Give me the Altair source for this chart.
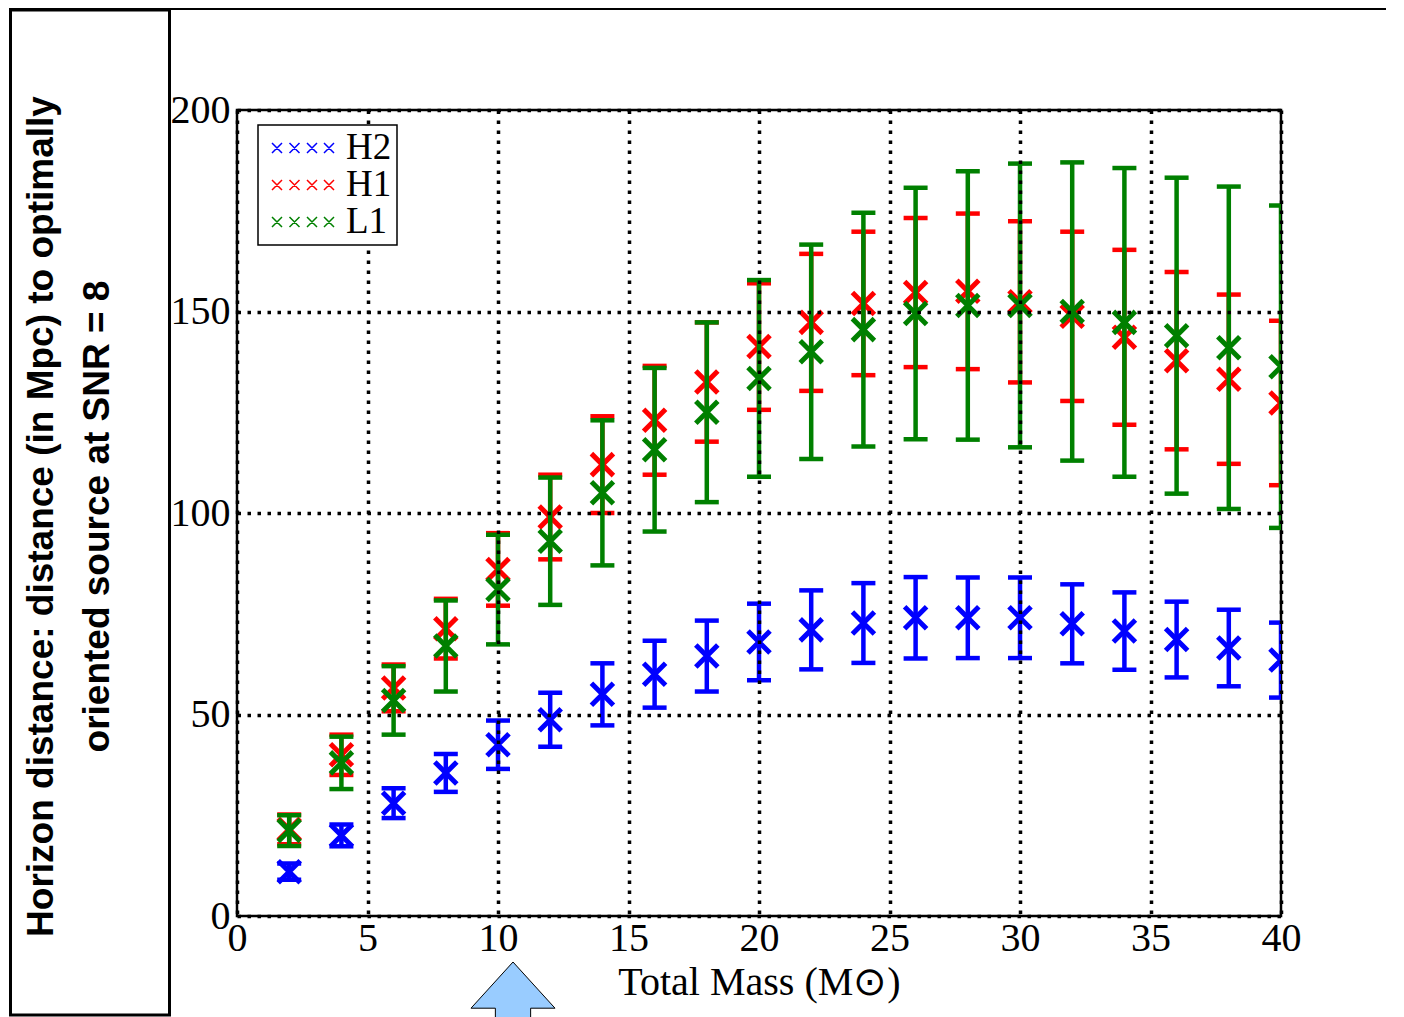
import altair as alt
import pandas as pd

# ---- data ----
mass = [2, 4, 6, 8, 10, 12, 14, 16, 18, 20, 22, 24, 26, 28, 30, 32, 34, 36, 38, 40]

h2_val = [11, 20, 28, 35.5, 42.5, 48.7, 55, 60, 64.5, 68, 71, 72.7, 74, 74, 74, 72.5, 70.7, 68.6, 66.5, 63.5]
h2_err = [2, 2.7, 3.7, 4.7, 6, 6.7, 7.7, 8.3, 8.8, 9.5, 9.8, 9.9, 10.1, 10, 10, 9.8, 9.6, 9.4, 9.5, 9.3]

h1_val = [21.5, 40, 56.6, 71.3, 86, 99, 112, 123, 132.5, 141.3, 147.3, 152, 154.7, 155, 152.4, 148.8, 143.6, 137.8, 133.2, 127.3]
h1_err = [3.7, 5, 5.8, 7.4, 9, 10.5, 12, 13.5, 14.8, 15.7, 17, 17.8, 18.5, 19.3, 20, 21, 21.7, 22, 21, 20.4]

l1_val = [21.2, 38, 53.5, 67, 81, 93, 105, 115.7, 125, 133.4, 140, 145.5, 149.5, 151.5, 151.5, 150, 147.3, 144, 141, 136.3]
l1_err = [3.8, 6.5, 8.5, 11.3, 13.6, 15.8, 18, 20.3, 22.3, 24.4, 26.6, 29, 31.2, 33.3, 35.2, 37, 38.3, 39.2, 40, 40]

detectors = ["H2", "H1", "L1"]
colors = ["#0000ff", "#ff0000", "#008000"]

x_ticks = [0, 5, 10, 15, 20, 25, 30, 35, 40]
y_ticks = [0, 50, 100, 150, 200]

x_title = "Total Mass (M⊙)"
side_line1 = "Horizon distance: distance (in Mpc) to optimally"
side_line2 = "oriented source at SNR = 8"

rows = []
for det, vals, errs in zip(detectors, [h2_val, h1_val, l1_val], [h2_err, h1_err, l1_err]):
    for m, v, e in zip(mass, vals, errs):
        rows.append({"mass": m, "det": det, "dist": v, "err": e})
df = pd.DataFrame(rows)

X_PATH = "M-1,-1L1,1M-1,1L1,-1"
# four small crosses, as in the matplotlib legend (scale: 20 px per unit)
LEG_PATH = ("M-1,0"
            "M-0.6,-0.25L-0.1,0.25M-0.6,0.25L-0.1,-0.25"
            "M0.275,-0.25L0.775,0.25M0.275,0.25L0.775,-0.25"
            "M1.15,-0.25L1.65,0.25M1.15,0.25L1.65,-0.25"
            "M2.0,-0.25L2.5,0.25M2.0,0.25L2.5,-0.25")

SERIF = "Liberation Serif"

x_scale = alt.Scale(domain=[0, 40], nice=False, zero=False)
y_scale = alt.Scale(domain=[0, 200], nice=False, zero=False)
color_scale = alt.Scale(domain=detectors, range=colors)

x_axis = alt.Axis(values=x_ticks, format="d", title=x_title, titleFont=SERIF,
                  titleFontSize=40, titleFontWeight="normal", titleColor="black",
                  titleBaseline="alphabetic", titleY=78,
                  labelFont=SERIF, labelFontSize=40, labelColor="black",
                  labelPadding=2, labelFlush=False, labelOverlap=False,
                  ticks=False, domain=False, grid=True, gridColor="black",
                  gridDash=[3.5, 6.5], gridWidth=3.5, gridOpacity=1, zindex=1)
y_axis = alt.Axis(values=y_ticks, format="d", title=None,
                  labelFont=SERIF, labelFontSize=40, labelColor="black",
                  labelPadding=7, labelOverlap=False,
                  ticks=False, domain=False, grid=True, gridColor="black",
                  gridDash=[3.5, 6.5], gridWidth=3.5, gridOpacity=1, zindex=1)

legend = alt.Legend(title=None, orient="none", legendX=21, legendY=15,
                    symbolType=LEG_PATH, symbolSize=1600, symbolStrokeWidth=1.5,
                    symbolOpacity=1, clipHeight=36,
                    labelFont=SERIF, labelFontSize=37, labelColor="black",
                    labelOffset=41, padding=5, rowPadding=0,
                    strokeColor="black", fillColor="white", zindex=2)

color_enc = alt.Color("det:N", scale=color_scale, legend=legend)

base = alt.Chart(df).transform_calculate(
    lo="datum.dist - datum.err", hi="datum.dist + datum.err")

layers = []
for det in detectors:
    b = base.transform_filter(alt.datum.det == det)
    rule = b.mark_rule(strokeWidth=4.5, clip=True).encode(
        x=alt.X("mass:Q", scale=x_scale, axis=x_axis),
        y=alt.Y("lo:Q", scale=y_scale, axis=y_axis),
        y2="hi:Q",
        color=color_enc)
    cap_lo = b.mark_tick(orient="horizontal", size=24, thickness=4.5, opacity=1, clip=True).encode(
        x=alt.X("mass:Q", scale=x_scale, axis=x_axis),
        y=alt.Y("lo:Q", scale=y_scale, axis=y_axis),
        color=color_enc)
    cap_hi = b.mark_tick(orient="horizontal", size=24, thickness=4.5, opacity=1, clip=True).encode(
        x=alt.X("mass:Q", scale=x_scale, axis=x_axis),
        y=alt.Y("hi:Q", scale=y_scale, axis=y_axis),
        color=color_enc)
    pt = b.mark_point(shape=X_PATH, size=484, strokeWidth=5, filled=False, opacity=1, clip=True).encode(
        x=alt.X("mass:Q", scale=x_scale, axis=x_axis),
        y=alt.Y("dist:Q", scale=y_scale, axis=y_axis),
        color=color_enc)
    layers += [rule, cap_lo, cap_hi, pt]

deco = alt.Chart(pd.DataFrame({"k": [0]}))

top_line = deco.mark_rule(color="black", strokeWidth=2).encode(
    x=alt.value(-228), x2=alt.value(1149), y=alt.value(-101))
side_box = deco.mark_rect(fill="white", fillOpacity=0, stroke="black", strokeWidth=3).encode(
    x=alt.value(-226.5), x2=alt.value(-67.5), y=alt.value(-100), y2=alt.value(905))
text1 = deco.mark_text(angle=270, align="center", baseline="alphabetic",
                       font="Liberation Sans", fontWeight="bold", fontSize=37, color="black").encode(
    x=alt.value(-184), y=alt.value(406.5), text=alt.value(side_line1))
text2 = deco.mark_text(angle=270, align="center", baseline="alphabetic",
                       font="Liberation Sans", fontWeight="bold", fontSize=37, color="black").encode(
    x=alt.value(-128), y=alt.value(406.5), text=alt.value(side_line2))
ARROW = "M0.42,0.75L0.42,0.1L1,0.1L0,-1L-1,0.1L-0.42,0.1L-0.42,0.75"
arrow = deco.mark_point(shape=ARROW, size=7056, filled=True, fill="#99ccff", fillOpacity=1,
                        stroke="black", strokeWidth=1, opacity=1).encode(
    x=alt.value(276), y=alt.value(894))

chart = alt.layer(*layers, side_box, top_line, text1, text2, arrow).properties(
    width=1044, height=806, padding=0, background="white"
).configure_view(stroke="black", strokeWidth=2.5).configure_legend(strokeWidth=1.5)

chart.save("out.html", embed_options={"renderer": "svg", "actions": False})
